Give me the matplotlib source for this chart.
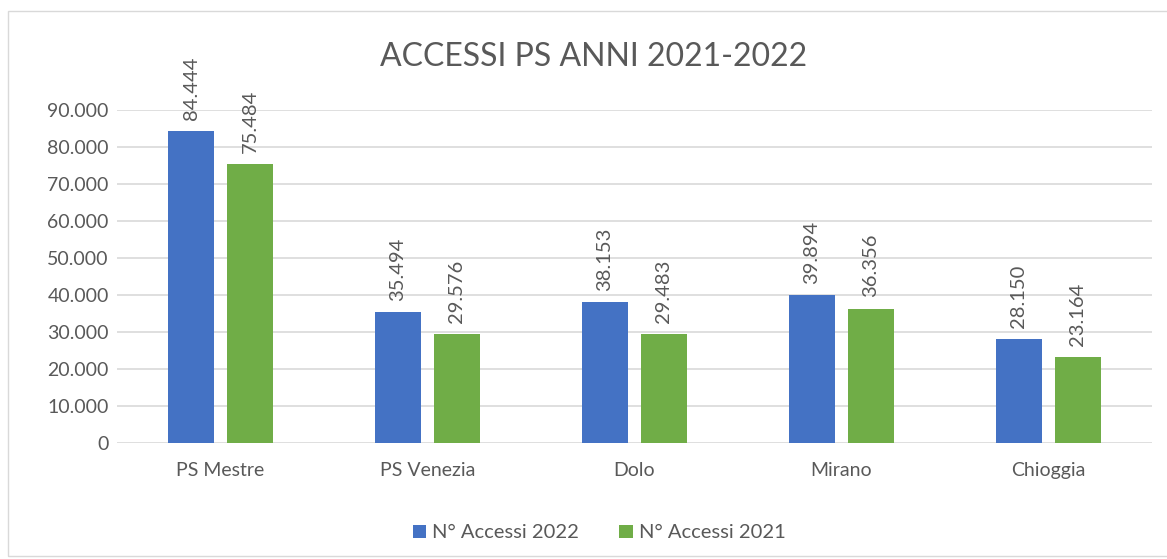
import numpy as np
import matplotlib
matplotlib.use("Agg")
import matplotlib.pyplot as plt
from matplotlib.patches import Rectangle

categories = ["PS Mestre", "PS Venezia", "Dolo", "Mirano", "Chioggia"]
accessi_2022 = [84444, 35494, 38153, 39894, 28150]
accessi_2021 = [75484, 29576, 29483, 36356, 23164]
series_labels = ["N° Accessi 2022", "N° Accessi 2021"]
yticks = np.arange(0, 90001, 10000)

plt.rcParams['font.family'] = ['Lato', 'DejaVu Sans']
grey = "#595959"
blue = "#4472C4"
green = "#70AD47"


def fmt(v):
    return f"{v:,}".replace(",", ".")


fig = plt.figure(figsize=(11.67, 5.59), dpi=100)
ax = fig.add_axes([0.1003, 0.2075, 0.8867, 0.5955])

x = np.arange(len(categories))
w = 0.222
off = 0.142
b1 = ax.bar(x - off, accessi_2022, w, color=blue, label=series_labels[0], zorder=3)
b2 = ax.bar(x + off, accessi_2021, w, color=green, label=series_labels[1], zorder=3)

for bars in (b1, b2):
    for r in bars:
        h = r.get_height()
        ax.annotate(fmt(int(h)), (r.get_x() + r.get_width() / 2, h),
                    xytext=(0, 8), textcoords="offset points",
                    rotation=90, ha="center", va="bottom",
                    fontsize=14.5, color=grey)

ax.set_xlim(-0.5, len(categories) - 0.5)
ax.set_ylim(0, 90000)
ax.set_yticks(yticks)
ax.set_yticklabels([fmt(int(v)) for v in yticks])
ax.set_xticks(x)
ax.set_xticklabels(categories)
ax.tick_params(axis="both", length=0, labelsize=14, colors=grey)
ax.tick_params(axis="x", pad=14, labelsize=14)
ax.tick_params(axis="y", pad=6)
ax.yaxis.grid(True, color="#D9D9D9", linewidth=1.2, zorder=0)
for s in ax.spines.values():
    s.set_visible(False)

fig.text(0.509, 0.898, "ACCESSI PS ANNI 2021-2022", ha="center", va="center",
         fontsize=23, color=grey)

ax.legend(loc="upper center", bbox_to_anchor=(0.466, -0.19), ncol=2,
          frameon=False, fontsize=14.5, labelcolor=grey, handlelength=0.65,
          handleheight=0.65, handletextpad=0.3, columnspacing=2.0)

fig.patches.append(Rectangle((8 / 1167, 0.005), 1.2, 1 - 11 / 559 - 0.005,
                             transform=fig.transFigure, fill=False,
                             edgecolor="#D9D9D9", linewidth=1))

fig.savefig("out.png", dpi=100)
